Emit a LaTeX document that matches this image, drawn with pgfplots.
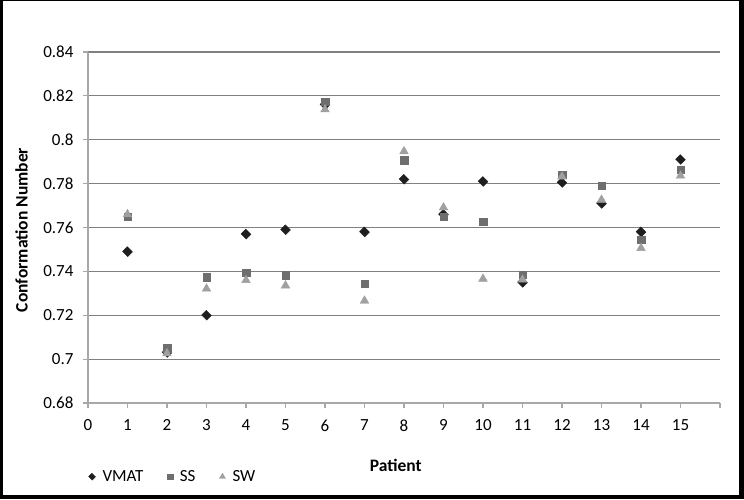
\documentclass[border=0pt]{standalone}
\usepackage{pgfplots}
\pgfplotsset{compat=1.18}
\usepackage{fontspec}
\setmainfont{Carlito}
\definecolor{cvmat}{HTML}{1E1E1E}
\definecolor{css}{HTML}{6E6E6E}
\definecolor{csw}{HTML}{A0A0A0}
\definecolor{cgrid}{HTML}{808080}
\definecolor{caxis}{HTML}{A8A8A8}
\begin{document}
\begin{tikzpicture}
\useasboundingbox (0,0) rectangle (744pt,499pt);
\fill[black] (0,0) rectangle (744pt,499pt);
\fill[white] (3pt,4pt) rectangle (739pt,497.5pt);
\begin{axis}[
  at={(88pt,96pt)}, anchor=south west,
  scale only axis, width=632pt, height=351pt,
  xmin=0, xmax=16, ymin=0.68, ymax=0.84,
  xtick={0,1,...,16},
  xticklabels={0,1,2,3,4,5,6,7,8,9,10,11,12,13,14,15,},
  ytick={0.68,0.70,...,0.841},
  yticklabels={0.68,0.7,0.72,0.74,0.76,0.78,0.8,0.82,0.84},
  axis x line*=bottom, axis y line*=left,
  axis line style={caxis, line width=1.2pt, -},
  tick align=outside, major tick length=5pt,
  tick style={caxis, line width=1.2pt},
  ymajorgrids, grid style={cgrid, line width=1.1pt},
  /pgf/number format/assume math mode=true,
  tick label style={font=\fontsize{17}{20}\selectfont},
  xticklabel style={yshift=-8pt},
  yticklabel style={xshift=-6pt},
  xlabel={Patient}, ylabel={Conformation Number},
  label style={font=\bfseries\fontsize{17.5}{20}\selectfont},
  xlabel style={at={(axis description cs:0.487,-0.177)}, anchor=center},
  ylabel style={at={(axis description cs:-0.105,0.493)}, anchor=center},
  legend columns=3,
  legend style={at={(axis description cs:-0.004,-0.21)}, anchor=west, draw=none, fill=none,
    font=\fontsize{17}{20}\selectfont, column sep=5pt,
    /tikz/every even column/.append style={column sep=22pt}},
  legend image post style={scale=0.7},
  clip=false,
]
\addplot[only marks, mark=square*, mark size=3.3pt, mark options={rotate=45, yscale=1.1, fill=cvmat, draw=cvmat}] coordinates {
(1,0.749) (2,0.703) (3,0.720) (4,0.757) (5,0.759) (6,0.816) (7,0.758) (8,0.782)
(9,0.766) (10,0.781) (11,0.735) (12,0.7805) (13,0.771) (14,0.758) (15,0.791)};
\addlegendentry{VMAT}
\addplot[only marks, mark=square*, mark size=3.8pt, mark options={fill=css, draw=css}] coordinates {
(1,0.765) (2,0.705) (3,0.7374) (4,0.7394) (5,0.7383) (6,0.8174) (7,0.7344) (8,0.7907)
(9,0.765) (10,0.7626) (11,0.7385) (12,0.784) (13,0.779) (14,0.7544) (15,0.7863)};
\addlegendentry{SS}
\addplot[only marks, mark=triangle*, mark size=5pt, mark options={fill=csw, draw=csw}] coordinates {
(1,0.766) (2,0.7026) (3,0.7321) (4,0.736) (5,0.7335) (6,0.8138) (7,0.7266) (8,0.7947)
(9,0.7691) (10,0.7366) (11,0.7362) (12,0.7832) (13,0.7726) (14,0.7506) (15,0.7836)};
\addlegendentry{SW}
\end{axis}
\end{tikzpicture}
\end{document}
